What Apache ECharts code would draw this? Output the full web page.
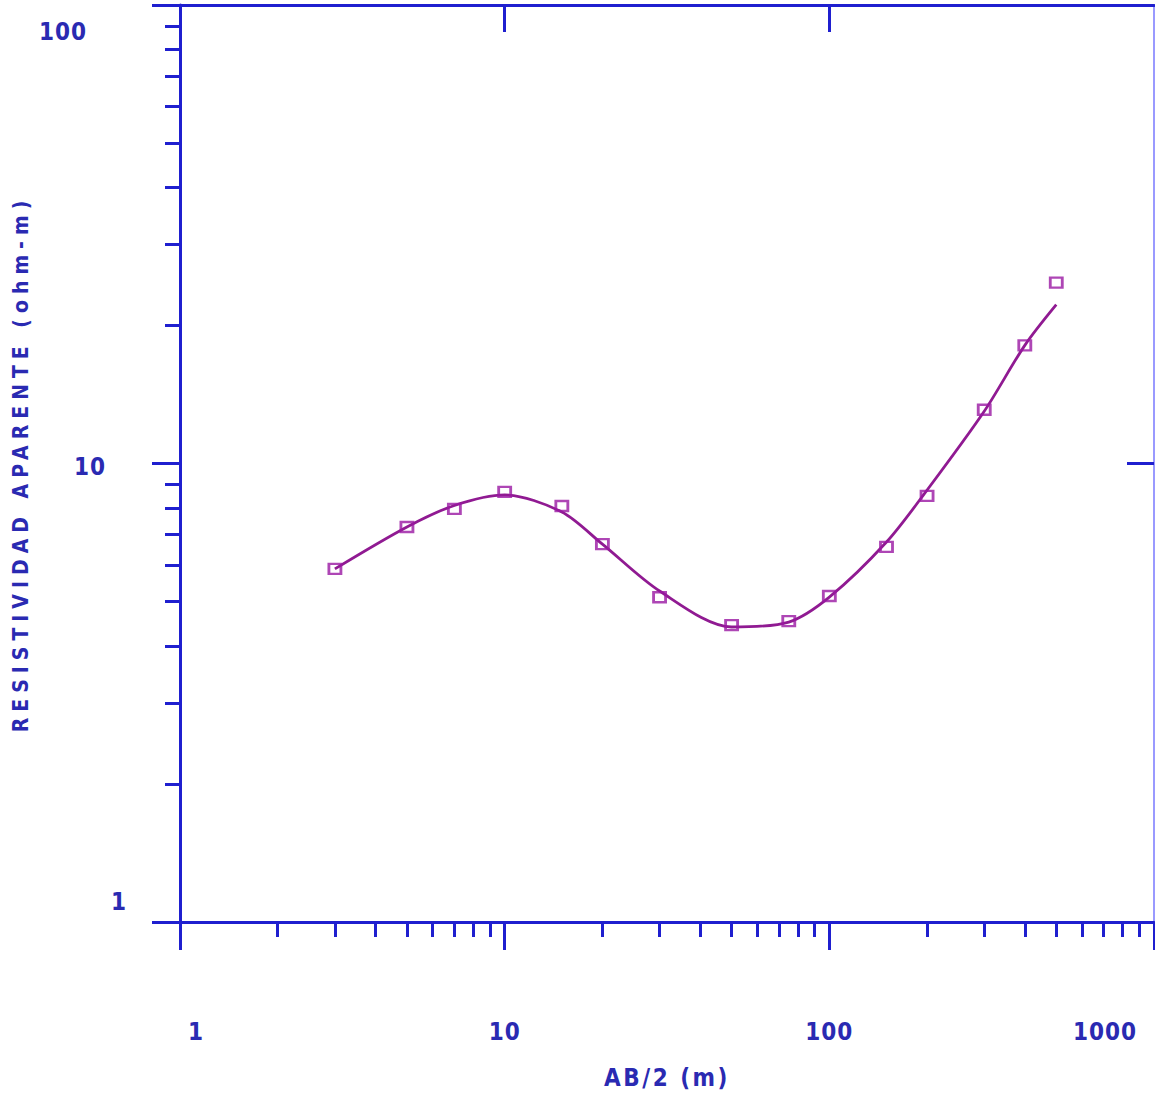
<!DOCTYPE html>
<html>
<head>
<meta charset="utf-8">
<script src="https://cdn.jsdelivr.net/npm/echarts@6/dist/echarts.min.js"></script>
<style>
html,body{margin:0;padding:0;background:#fff;}
#chart{width:1155px;height:1097px;}
</style>
</head>
<body>
<div id="chart"></div>
<script>
// ---- data ----
var abHalf = [3, 5, 7, 10, 15, 20, 30, 50, 75, 100, 150, 200, 300, 400, 500];
var rhoMeasured = [5.89, 7.27, 7.96, 8.67, 8.08, 6.67, 5.11, 4.44, 4.53, 5.14, 6.58, 8.50, 13.1, 18.1, 24.8];
var curveAb = [3, 5, 7, 10, 15, 20, 30, 50, 75, 100, 150, 200, 300, 400, 500];
var rhoCurve = [5.89, 7.27, 8.1, 8.54, 7.84, 6.67, 5.27, 4.40, 4.51, 5.11, 6.74, 8.75, 13.0, 18.1, 22.2];
var xMajorTicks = [1, 10, 100, 1000];
var xMinorTicks = [2,3,4,5,6,7,8,9,20,30,40,50,60,70,80,90,200,300,400,500,600,700,800,900];
var yMajorTicks = [1, 10, 100];
var yMinorTicks = [2,3,4,5,6,7,8,9,20,30,40,50,60,70,80,90];
var xTitle = 'AB/2 (m)';
var yTitle = 'RESISTIVIDAD APARENTE (ohm-m)';

var AXIS = '#1f1fcf';
var TXT = '#2a2ab2';
var FONT = "'Liberation Sans Narrow', 'DejaVu Sans Condensed', sans-serif";
var tok = function (pad) {
  return { padding: pad, fontSize: 24, fontWeight: 'bold', fontFamily: FONT, color: TXT };
};

var chart = echarts.init(document.getElementById('chart'), null, { renderer: 'svg' });
var option = {
  animation: false,
  backgroundColor: '#ffffff',
  grid: { left: 180, right: 1, top: 5, bottom: 175, containLabel: false },
  xAxis: [
    {
      type: 'log', logBase: 10, min: 1, max: 1000, position: 'bottom',
      axisLine: { show: true, lineStyle: { color: AXIS, width: 3 } },
      axisTick: { show: true, customValues: xMajorTicks, length: 28, lineStyle: { color: AXIS, width: 3 } },
      minorTick: { show: false },
      splitLine: { show: false },
      axisLabel: {
        show: true, customValues: xMajorTicks, margin: 98,
        fontSize: 24, fontWeight: 'bold', fontFamily: FONT, color: TXT,
        formatter: function (v) {
          var r = Math.round(v);
          if (r === 1) return '{l|1}';
          if (r === 1000) return '{r|1000}';
          return '{n|' + r + '}';
        },
        rich: { l: tok([0, 0, 0, 32]), r: tok([0, 98, 0, 0]), n: tok([0, 0, 0, 0]) }
      },
      name: xTitle, nameLocation: 'middle', nameGap: 144,
      nameTextStyle: { fontSize: 24, fontWeight: 'bold', fontFamily: FONT, color: TXT }
    },
    {
      type: 'log', logBase: 10, min: 1, max: 1000, position: 'bottom',
      axisLine: { show: false },
      axisTick: { show: true, customValues: xMinorTicks, length: 15, lineStyle: { color: AXIS, width: 3 } },
      axisLabel: { show: false },
      splitLine: { show: false }
    },
    {
      type: 'log', logBase: 10, min: 1, max: 1000, position: 'top',
      axisLine: { show: true, lineStyle: { color: AXIS, width: 3 } },
      axisTick: { show: true, inside: true, customValues: [10, 100], length: 27, lineStyle: { color: AXIS, width: 3 } },
      axisLabel: { show: false },
      splitLine: { show: false }
    }
  ],
  yAxis: [
    {
      type: 'log', logBase: 10, min: 1, max: 100, position: 'left',
      axisLine: { show: true, lineStyle: { color: AXIS, width: 3 } },
      axisTick: { show: true, customValues: yMajorTicks, length: 28, lineStyle: { color: AXIS, width: 3 } },
      splitLine: { show: false },
      axisLabel: {
        show: true, customValues: yMajorTicks, margin: 53,
        fontSize: 24, fontWeight: 'bold', fontFamily: FONT, color: TXT,
        formatter: function (v) {
          var r = Math.round(v);
          if (r === 1) return '{a|1}';
          if (r === 10) return '{b|10}';
          return '{c|' + r + '}';
        },
        rich: { a: tok([0, 0, 40, 0]), b: tok([6, 21, 0, 0]), c: tok([54, 40, 0, 0]) }
      },
      name: yTitle, nameLocation: 'middle', nameRotate: 90, nameGap: 140,
      nameTextStyle: { fontSize: 21, fontWeight: 'bold', fontFamily: FONT, color: TXT }
    },
    {
      type: 'log', logBase: 10, min: 1, max: 100, position: 'left',
      axisLine: { show: false },
      axisTick: { show: true, customValues: yMinorTicks, length: 15, lineStyle: { color: AXIS, width: 3 } },
      axisLabel: { show: false },
      splitLine: { show: false }
    },
    {
      type: 'log', logBase: 10, min: 1, max: 100, position: 'right',
      axisLine: { show: true, lineStyle: { color: '#9a9aff', width: 2 } },
      axisTick: { show: true, inside: true, customValues: [10], length: 27, lineStyle: { color: AXIS, width: 3 } },
      axisLabel: { show: false },
      splitLine: { show: false }
    }
  ],
  series: [
    {
      type: 'line', xAxisIndex: 0, yAxisIndex: 0,
      data: curveAb.map(function (x, i) { return [x, rhoCurve[i]]; }),
      smooth: 0.3, showSymbol: false, symbol: 'none',
      lineStyle: { color: '#901a92', width: 2.8 },
      z: 3
    },
    {
      type: 'scatter', xAxisIndex: 0, yAxisIndex: 0,
      data: abHalf.map(function (x, i) { return [x, rhoMeasured[i]]; }),
      symbol: 'rect', symbolSize: [12, 10],
      itemStyle: { color: 'rgba(255,255,255,0)', borderColor: '#9a18a2', borderWidth: 2.6 },
      z: 4
    }
  ]
};
chart.setOption(option);

function spaceText() {
  var nodes = document.querySelectorAll('#chart text');
  nodes.forEach(function (n) {
    var t = (n.textContent || '').trim();
    if (t.indexOf('RESISTIVIDAD') === 0) n.setAttribute('letter-spacing', '6');
    else if (t === xTitle) n.setAttribute('letter-spacing', '2.5');
    else if (/^\d+$/.test(t)) n.setAttribute('letter-spacing', '1');
  });
}
chart.on('finished', spaceText);
spaceText();
</script>
</body>
</html>
